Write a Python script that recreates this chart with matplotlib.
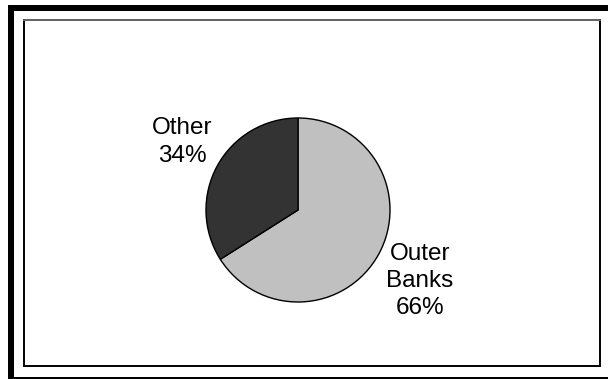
import matplotlib
matplotlib.use("Agg")
import matplotlib.pyplot as plt
from matplotlib.patches import Rectangle

labels = ["Outer\nBanks\n66%", "Other\n34%"]
values = [66, 34]
colors = ["#c0c0c0", "#333333"]

W, H = 608, 379
fig = plt.figure(figsize=(W / 100, H / 100), dpi=100)
ax = fig.add_axes([0, 0, 1, 1])

ax.pie(values, colors=colors, startangle=90, counterclock=False,
       center=(298, H - 210), radius=92, frame=True,
       wedgeprops=dict(ec="black", lw=1.0))
ax.set_xlim(0, W); ax.set_ylim(0, H)
ax.set_aspect("equal"); ax.axis("off")

# outer thick frame as filled bars (right side falls off the picture)
for x0, y0, w, h in [(8, H - 11, W - 8, 6), (8, 0, W - 8, 2), (8, 0, 6, H - 5)]:
    ax.add_patch(Rectangle((x0, y0), w, h, fc="black", lw=0))
# inner thin frame
ax.plot([23.5, 23.5, 599.5, 599.5], [H - 19.5, H - 365.5, H - 365.5, H - 19.5], c="black", lw=1.4,
        solid_joinstyle="miter")
ax.plot([23.5, 599.5], [H - 19.5, H - 19.5], c="#606060", lw=1.4)

font = dict(family="Liberation Sans", fontsize=17.5, ha="center", va="center", linespacing=1.3)
ax.text(182, H - 142, labels[1], **font)
ax.text(420, H - 281, labels[0], **font)

fig.savefig("out.png", dpi=100)
